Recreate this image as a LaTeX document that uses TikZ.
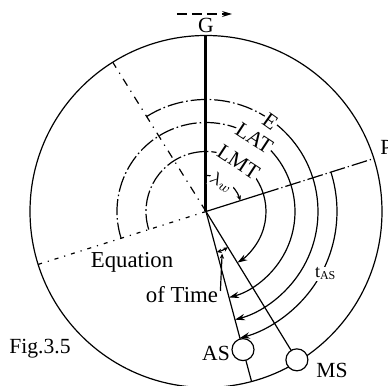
\documentclass[tikz,border=0pt]{standalone}
\usepackage{fontspec}
\setmainfont{Liberation Serif}
\usetikzlibrary{arrows.meta,calc}
\begin{document}
\begin{tikzpicture}[x=0.5pt,y=0.5pt,
  thinline/.style={line width=0.6pt},
  arcdd/.style={line width=0.6pt, dash pattern=on 8pt off 1.5pt on 0.8pt off 1.5pt},
  axisdd/.style={line width=0.6pt, dash pattern=on 4pt off 3pt on 0.6pt off 3pt},
  lowdd/.style={line width=0.6pt, dash pattern=on 2pt off 3pt on 0.6pt off 3pt},
  pdd/.style={line width=0.6pt, dash pattern=on 8pt off 1.5pt on 0.6pt off 1.5pt},
  arrowtip/.style={-{Stealth[length=5pt,width=3.2pt]}},
  smalltip/.style={-{Stealth[length=2.6pt,width=2.2pt]}},
  lbl/.style={font=\fontsize{10.8}{12}\selectfont, inner sep=1pt},
  arclbl/.style={lbl, fill=white, inner sep=0.4pt},
  body/.style={circle, draw, line width=0.6pt, fill=white, minimum size=11pt, inner sep=0pt}
]
\useasboundingbox (0,0) rectangle (388,386);
\coordinate (O) at (206,174.5);
\def\R{176}
% outer circle
\draw[thinline] (O) circle[radius=\R];
% reference points
\coordinate (Gtop) at ($(O)+(90:\R)$);
\coordinate (Pmid) at ($(O)+(17.5:60)$);
\coordinate (Pend) at ($(O)+(17.5:\R)$);
\coordinate (PA) at ($(O)+(197.5:\R)$);
\coordinate (MA) at ($(O)+(122:\R)$);
\coordinate (ASend) at ($(O)+(-75:\R)$);
\coordinate (ASc) at ($(O)+(-75:143)$);
\coordinate (MSc) at ($(O)+(-58.5:174)$);
% meridian lines
\draw[line width=1.5pt] (O) -- (Gtop);
\draw[thinline] (O) -- (Pmid);
\draw[pdd] (Pmid) -- (Pend);
\draw[lowdd] (O) -- (PA);
\draw[axisdd] (O) -- (MA);
\draw[thinline] (O) -- (ASend);
\draw[thinline] (O) -- (MSc);
% E arc
\draw[arcdd] ($(O)+(122:112)$) arc[start angle=122, end angle=54.5, radius=112];
\draw[thinline, arrowtip] ($(O)+(54.5:112)$) arc[start angle=54.5, end angle=-75, radius=112];
\node[arclbl, rotate=-35.5] (Elbl) at ($(O)+(54.5:111)$) {E};
% LAT arc
\draw[arcdd] ($(O)+(197.5:89)$) arc[start angle=197.5, end angle=56.7, radius=89];
\draw[thinline, arrowtip] ($(O)+(56.7:89)$) arc[start angle=56.7, end angle=-75, radius=89];
\node[arclbl, rotate=-33.3] (LATlbl) at ($(O)+(56.7:88)$) {LAT};
% LMT arc
\draw[arcdd] ($(O)+(197.5:60)$) arc[start angle=197.5, end angle=56.6, radius=60];
\draw[thinline, arrowtip] ($(O)+(56.6:60)$) arc[start angle=56.6, end angle=-58.5, radius=60];
\node[arclbl, rotate=-33.4] (LMTlbl) at ($(O)+(56.6:59)$) {LMT};
% t_AS arc
\draw[thinline, arrowtip] ($(O)+(17.5:131)$) arc[start angle=17.5, end angle=-75, radius=131];
\node[arclbl, font=\fontsize{9}{10}\selectfont] (tas) at ($(O)+(-27.5:135)$) {t\textsubscript{AS}};
% longitude arc
\draw[thinline, smalltip] ($(O)+(90:36)$) arc[start angle=90, end angle=17.5, radius=36];
\node[arclbl, font=\fontsize{9.5}{10}\selectfont, rotate=-27] (lw) at ($(O)+(62:33)$) {$\lambda_w$};
% equation of time
\draw[thinline, {Stealth[length=2.4pt,width=2.2pt]}-{Stealth[length=2.4pt,width=2.2pt]}] ($(O)+(-58.5:42)$) arc[start angle=-58.5, end angle=-75, radius=42];
\node[lbl, font=\fontsize{11.4}{13}\selectfont] (eq) at (132,124) {Equation};
\node[lbl, font=\fontsize{11.4}{13}\selectfont] (oft) at (182,91) {of Time};
\coordinate (eotp) at ($(O)+(-69:45)$);
\coordinate (ldr) at ($(oft.east)+(0,4)$);
\draw[thinline, smalltip] (ldr) -- (eotp);
% sun bodies
\node[body] (AS) at (ASc) {};
\node[body] (MS) at (MSc) {};
\node[lbl] (ASlbl) at (216,33) {AS};
\node[lbl] (MSlbl) at (332,16) {MS};
% labels
\node[lbl] (Glbl) at (206,361) {G};
\node[lbl, anchor=west] (Plbl) at (378,239) {P};
\node[lbl] (fig) at (40,37) {Fig.3.5};
% direction arrow above G
\coordinate (da1) at (177,372);
\coordinate (da2) at (232,372);
\draw[thinline, dash pattern=on 5pt off 2.5pt, -{Stealth[length=5pt,width=3pt]}] (da1) -- (da2);
\end{tikzpicture}
\end{document}
